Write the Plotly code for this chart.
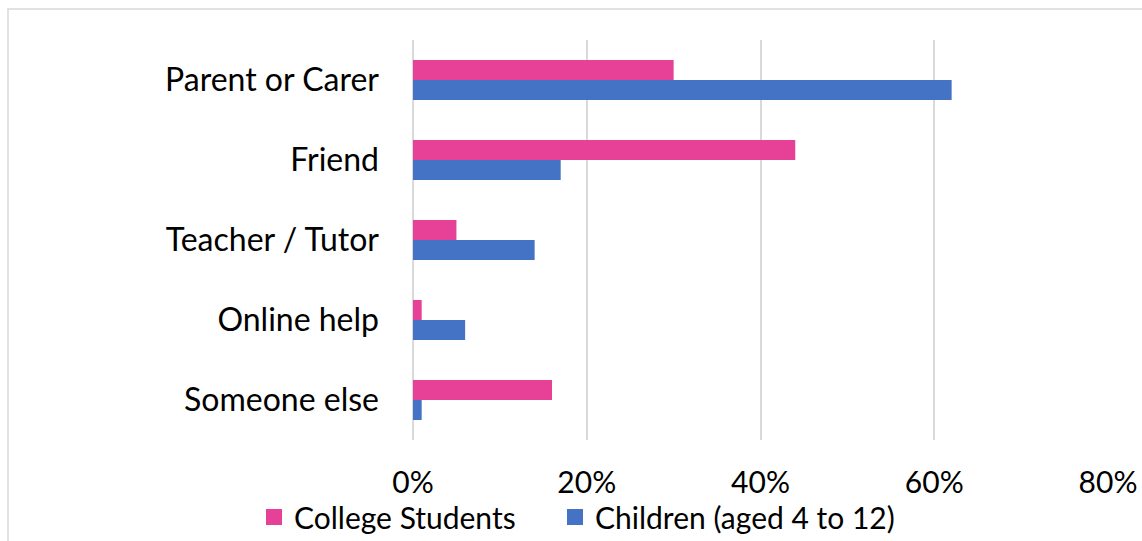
import plotly.graph_objects as go

categories = ["Parent or Carer", "Friend", "Teacher / Tutor", "Online help", "Someone else"]
college = [0.30, 0.44, 0.05, 0.01, 0.16]
children = [0.62, 0.17, 0.14, 0.06, 0.01]
tick_vals = [0, 0.2, 0.4, 0.6, 0.8]
tick_text = ["0%", "20%", "40%", "60%", "80%"]
series_names = ["College Students", "Children (aged 4 to 12)"]

PINK = "#E64196"
BLUE = "#4472C4"
FONT = "Lato"
FS = 31

fig = go.Figure()
fig.add_trace(go.Bar(y=categories, x=college, orientation="h", name=series_names[0],
                     marker=dict(color=PINK, line=dict(width=0)), showlegend=False))
fig.add_trace(go.Bar(y=categories, x=children, orientation="h", name=series_names[1],
                     marker=dict(color=BLUE, line=dict(width=0)), showlegend=False))
# legend entries with larger square swatches, one legend each for precise spacing
for nm, col, lg in zip(series_names, [PINK, BLUE], ["legend", "legend2"]):
    fig.add_trace(go.Scatter(x=[None], y=[None], mode="markers", name=nm,
                             marker=dict(symbol="square", size=20, color=col),
                             showlegend=True, legend=lg))

W, H = 1142, 541
L, R, T, B = 413, 34, 40, 101
pw, ph = W - L - R, H - T - B

leg_common = dict(orientation="h", xanchor="left", yanchor="top",
                  y=-(491 - (T + ph)) / ph,
                  font=dict(family=FONT, size=30, color="#000000"),
                  itemwidth=30, bgcolor="rgba(0,0,0,0)")

fig.update_layout(
    width=W, height=H,
    margin=dict(l=L, r=R, t=T, b=B, pad=0, autoexpand=False),
    paper_bgcolor="white", plot_bgcolor="white",
    barmode="group", bargap=0.5, bargroupgap=0,
    font=dict(family=FONT, size=FS, color="#000000"),
    showlegend=True,
    legend=dict(x=(254 - L) / pw, **leg_common),
    legend2=dict(x=(555 - L) / pw, **leg_common),
    xaxis=dict(range=[0, 0.8], tickvals=tick_vals, ticktext=tick_text,
               showgrid=True, gridcolor="#d9d9d9", gridwidth=2,
               zeroline=True, zerolinecolor="#d9d9d9", zerolinewidth=2,
               showline=False, ticks="", ticklabelstandoff=22, automargin=False,
               tickfont=dict(family=FONT, size=30, color="#000000")),
    yaxis=dict(autorange="reversed", showgrid=False, zeroline=False, showline=False,
               ticks="", ticklabelstandoff=33, automargin=False,
               tickfont=dict(family=FONT, size=32, color="#000000")),
    shapes=[dict(type="rect", xref="paper", yref="paper",
                 x0=(8 - L) / pw, x1=1 + (R + 20) / pw,
                 y0=-(B + 20) / ph, y1=1 + (T - 9) / ph,
                 line=dict(color="#d9d9d9", width=1.5), fillcolor="rgba(0,0,0,0)",
                 layer="below")],
)

fig.write_html("out.html")
